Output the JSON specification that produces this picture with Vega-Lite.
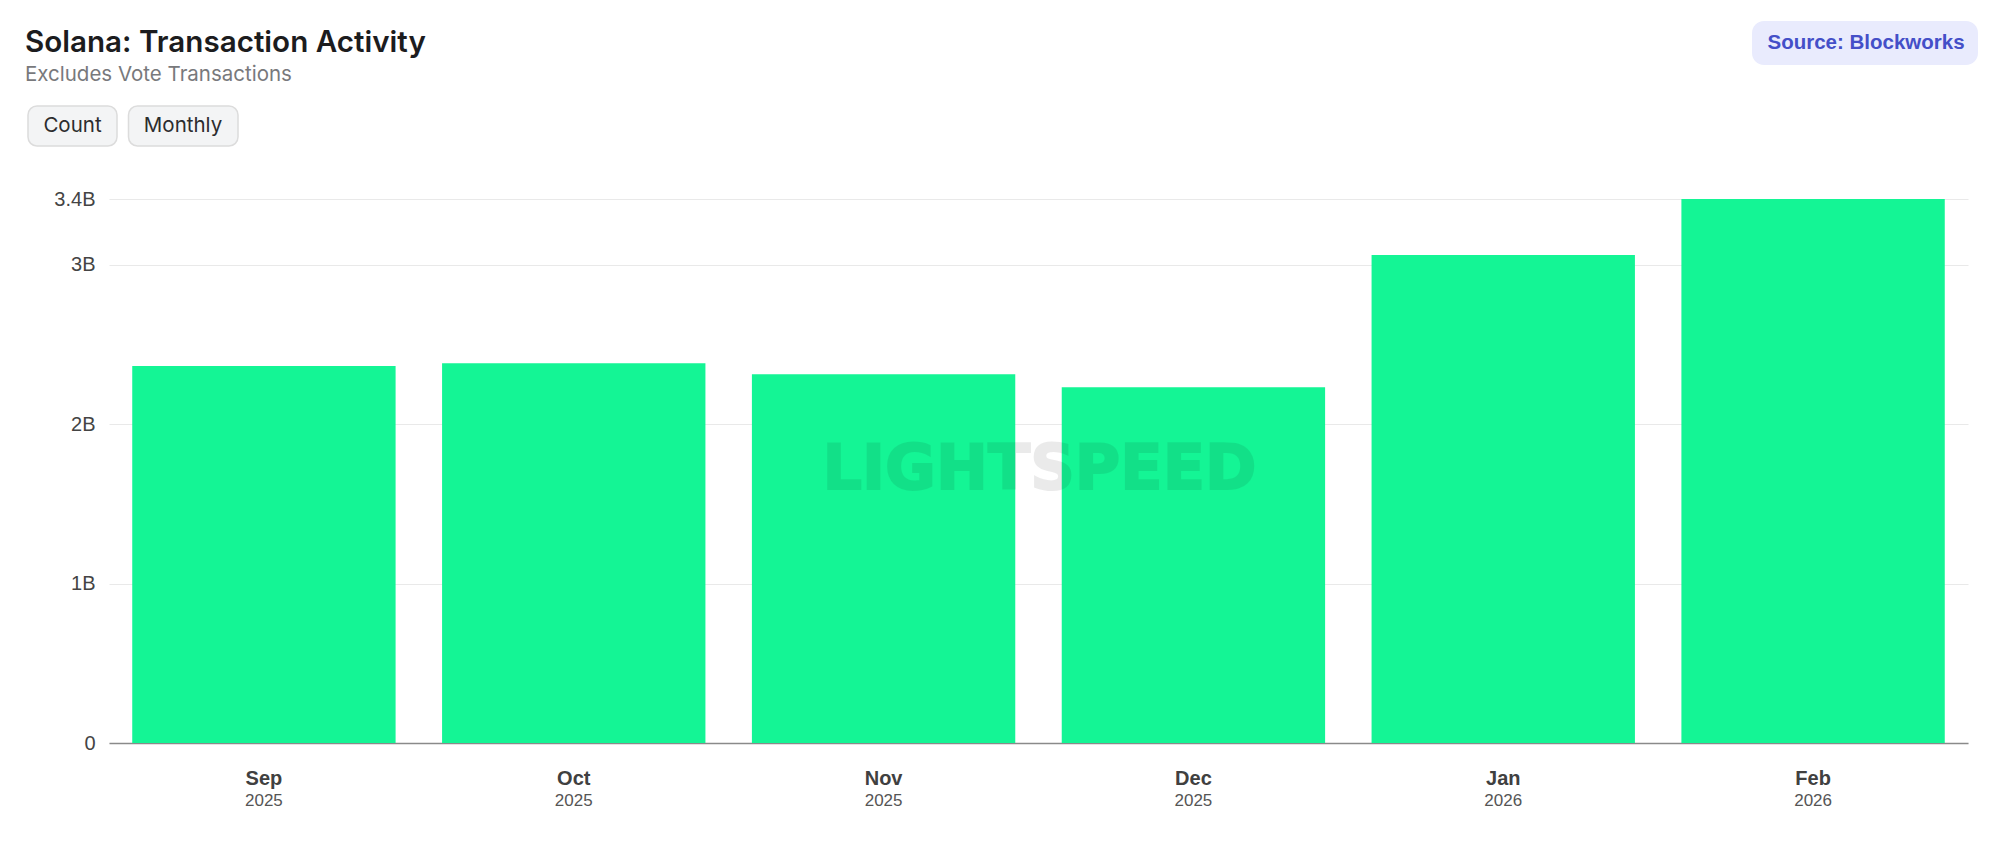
{
  "$schema": "https://vega.github.io/schema/vega-lite/v6.json",
  "description": "Solana monthly non-vote transaction count.",
  "width": 1859,
  "height": 544,
  "autosize": "none",
  "padding": {"left": 109, "top": 199, "right": 31, "bottom": 110},
  "background": "#ffffff",
  "config": {"view": {"stroke": null}},
  "title": {
    "text": "Solana: Transaction Activity",
    "subtitle": "Excludes Vote Transactions",
    "anchor": "start",
    "frame": "group",
    "dx": -84,
    "offset": -66,
    "font": "Inter",
    "fontSize": 29.6,
    "fontWeight": 600,
    "color": "#1c1c1e",
    "subtitleFont": "Inter",
    "subtitleFontSize": 20.5,
    "subtitleColor": "#78797c",
    "subtitlePadding": 7
  },
  "datasets": {
    "months": [
      {"month": "Sep", "year": "2025", "transactions": 2365000000},
      {"month": "Oct", "year": "2025", "transactions": 2382000000},
      {"month": "Nov", "year": "2025", "transactions": 2313000000},
      {"month": "Dec", "year": "2025", "transactions": 2232000000},
      {"month": "Jan", "year": "2026", "transactions": 3061000000},
      {"month": "Feb", "year": "2026", "transactions": 3413000000}
    ]
  },
  "layer": [
    {
      "data": {"name": "months"},
      "mark": {"type": "bar", "color": "#14f595"},
      "encoding": {
        "x": {
          "field": "month",
          "type": "nominal",
          "sort": null,
          "title": null,
          "scale": {"paddingInner": 0.15, "paddingOuter": 0.075},
          "axis": {
            "labelAngle": 0,
            "labelFont": "Liberation Sans",
            "labelFontSize": 20,
            "labelFontWeight": "bold",
            "labelColor": "#404040",
            "labelPadding": 25,
            "ticks": false,
            "domainColor": "#8a8a8a",
            "domainWidth": 1.5,
            "grid": false
          }
        },
        "y": {
          "field": "transactions",
          "type": "quantitative",
          "title": null,
          "scale": {"domain": [0, 3413000000], "nice": false},
          "axis": {
            "values": [0, 1000000000, 2000000000, 3000000000, 3413000000],
            "labelExpr": "datum.value == 0 ? '0' : format(datum.value / 1000000000, '.2~r') + 'B'",
            "labelFont": "Liberation Sans",
            "labelFontSize": 20,
            "labelColor": "#444444",
            "labelPadding": 14,
            "ticks": false,
            "domain": false,
            "gridColor": "#e9e9e9",
            "gridWidth": 1.2
          }
        }
      }
    },
    {
      "data": {"name": "months"},
      "mark": {"type": "text", "font": "Liberation Sans", "fontSize": 17, "color": "#555555", "yOffset": 58},
      "encoding": {
        "x": {"field": "month", "type": "nominal", "sort": null},
        "y": {"datum": 0, "type": "quantitative"},
        "text": {"field": "year"}
      }
    },
    {
      "data": {"values": [{"label": "LIGHTSPEED"}]},
      "mark": {"type": "text", "font": "DejaVu Sans", "fontSize": 62, "fontWeight": "bold", "color": "#000000", "stroke": "#000000", "strokeWidth": 2, "opacity": 0.08, "x": 930.5, "y": 271},
      "encoding": {"text": {"field": "label"}}
    },
    {
      "data": {"values": [{"label": "Count"}]},
      "mark": {"type": "rect", "x": -81, "x2": 8, "y": -93, "y2": -53, "fill": "#f3f4f5", "stroke": "#dcdcdc", "strokeWidth": 1.5, "cornerRadius": 9},
      "encoding": {}
    },
    {
      "data": {"values": [{"label": "Monthly"}]},
      "mark": {"type": "rect", "x": 19.5, "x2": 129, "y": -93, "y2": -53, "fill": "#f3f4f5", "stroke": "#dcdcdc", "strokeWidth": 1.5, "cornerRadius": 9},
      "encoding": {}
    },
    {
      "data": {"values": [{"label": "Count"}]},
      "mark": {"type": "text", "font": "Inter", "fontSize": 20.5, "color": "#2c2c2e", "x": -36.5, "y": -73},
      "encoding": {"text": {"field": "label"}}
    },
    {
      "data": {"values": [{"label": "Monthly"}]},
      "mark": {"type": "text", "font": "Inter", "fontSize": 20.5, "color": "#2c2c2e", "x": 74, "y": -73},
      "encoding": {"text": {"field": "label"}}
    },
    {
      "data": {"values": [{"label": "Source: Blockworks"}]},
      "mark": {"type": "rect", "x": 1643, "x2": 1869, "y": -178, "y2": -134, "fill": "#e9ebfd", "cornerRadius": 12},
      "encoding": {}
    },
    {
      "data": {"values": [{"label": "Source: Blockworks"}]},
      "mark": {"type": "text", "font": "Liberation Sans", "fontSize": 20.5, "fontWeight": "bold", "color": "#444fc8", "x": 1757, "y": -156},
      "encoding": {"text": {"field": "label"}}
    }
  ]
}
